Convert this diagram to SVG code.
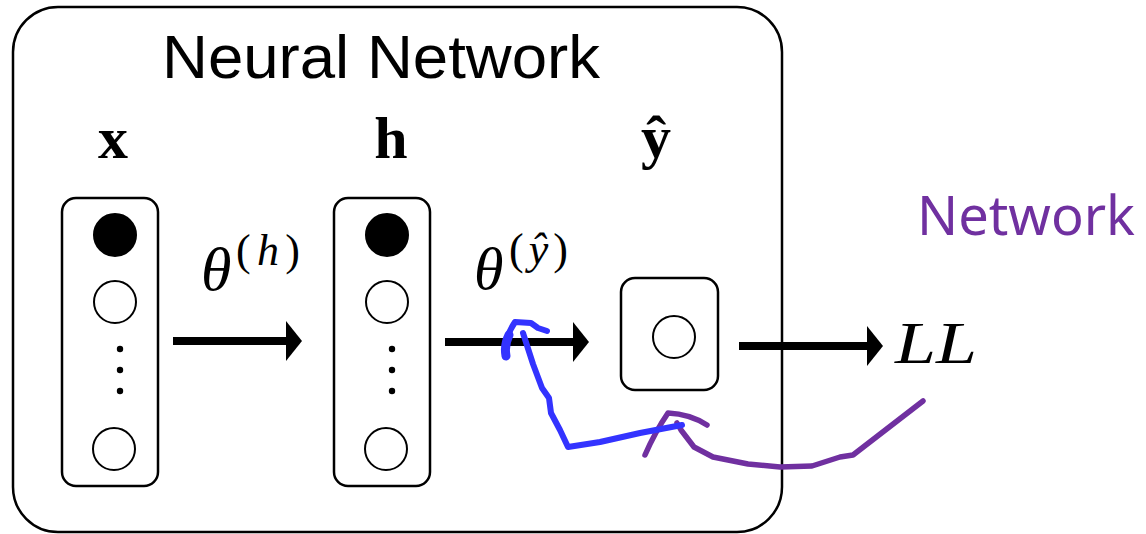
<svg xmlns="http://www.w3.org/2000/svg" width="1146" height="534" viewBox="0 0 1146 534">
<style>
.box{fill:none;stroke:#000;stroke-width:2.5}
.unit{fill:#fff;stroke:#000;stroke-width:2}
.bias{fill:#000;stroke:#000;stroke-width:2}
.dot{fill:#000}
.bold{font-family:"Liberation Serif",serif;font-weight:bold;font-size:60px;fill:#000}
.math{font-family:"Liberation Serif",serif;font-style:italic;fill:#000}
.up{font-style:normal}
.arrow{stroke:#000;stroke-width:8;fill:none}
.blue{stroke:#3333ff;stroke-width:6;fill:none;stroke-linejoin:round;stroke-linecap:round}
.purple{stroke:#7030a0;stroke-width:5.5;fill:none;stroke-linejoin:round;stroke-linecap:round}
</style>
<defs>
<marker id="head" markerUnits="userSpaceOnUse" markerWidth="16" markerHeight="40" viewBox="0 0 16 40" refX="0" refY="20" orient="auto">
<path d="M0,0 L16,20 L0,40 Z" fill="#000"/>
</marker>
</defs>
<rect width="1146" height="534" fill="#fff"/>
<g id="network">
<rect class="box" x="13" y="7" width="769" height="525" rx="45"/>
<text x="162" y="78" font-family="Liberation Sans, Arial, sans-serif" font-size="62" textLength="438" lengthAdjust="spacingAndGlyphs">Neural Network</text>
</g>
<g id="x-layer">
<text class="bold" x="113" y="158" text-anchor="middle">x</text>
<rect class="box" x="62" y="198" width="96" height="288" rx="14"/>
<circle class="bias" cx="115" cy="235" r="21"/>
<circle class="unit" cx="115" cy="302" r="21"/>
<circle class="dot" cx="120" cy="349" r="3.2"/>
<circle class="dot" cx="120" cy="370" r="3.2"/>
<circle class="dot" cx="120" cy="391" r="3.2"/>
<circle class="unit" cx="114" cy="449" r="21"/>
</g>
<g id="h-layer">
<text class="bold" x="391" y="158" text-anchor="middle">h</text>
<rect class="box" x="334" y="198" width="96" height="288" rx="14"/>
<circle class="bias" cx="387" cy="235" r="21"/>
<circle class="unit" cx="387" cy="302" r="21"/>
<circle class="dot" cx="392" cy="349" r="3.2"/>
<circle class="dot" cx="392" cy="370" r="3.2"/>
<circle class="dot" cx="392" cy="391" r="3.2"/>
<circle class="unit" cx="386" cy="449" r="21"/>
</g>
<g id="y-layer">
<text class="bold" x="656" y="157" text-anchor="middle">ŷ</text>
<rect class="box" x="621" y="278" width="97" height="112" rx="14"/>
<circle class="unit" cx="674" cy="337" r="21"/>
</g>
<g id="theta-h">
<text class="math" x="201" y="290" font-size="62">θ</text>
<text class="math" x="236" y="265" font-size="44" textLength="64" lengthAdjust="spacing"><tspan class="up">(</tspan>h<tspan class="up">)</tspan></text>
</g>
<g id="theta-y">
<text class="math" x="474" y="289" font-size="60">θ</text>
<text class="math" x="509" y="264" font-size="44" textLength="59" lengthAdjust="spacing"><tspan class="up">(</tspan>ŷ<tspan class="up">)</tspan></text>
</g>
<g id="LL">
<text class="math" x="895" y="363" font-size="60" textLength="82" lengthAdjust="spacingAndGlyphs">LL</text>
</g>
<g id="annotation">
<text x="917" y="235" font-family="Noto Sans, Open Sans, sans-serif" font-size="54" fill="#7030a0" textLength="218" lengthAdjust="spacingAndGlyphs">Network</text>
</g>
<g id="connectors">
<line class="arrow" x1="173" y1="341" x2="286" y2="341" marker-end="url(#head)"/>
<line class="arrow" x1="445" y1="342" x2="573" y2="342" marker-end="url(#head)"/>
<line class="arrow" x1="739" y1="346" x2="867" y2="346" marker-end="url(#head)"/>
</g>
<g id="ink">
<path class="purple" d="M923,401 L853,455 L840,457 L812,466 L780,467 L748,464 L713,457 L694,447 L681,430 L677,423"/>
<path class="purple" d="M645,455 Q655,432 668,413 Q690,414 707,425"/>
<path class="blue" d="M682,425 L640,433 L600,442 L568,447 L560,430 L551,413 L549,398 L542,388 L533,364 L523,333"/>
<path class="blue" d="M506,357 Q503,340 515,322 L531,323 L538,328 L547,331"/>
<path class="blue" style="stroke-width:9" d="M506,356 Q504,345 509,335"/>
</g>
</svg>
